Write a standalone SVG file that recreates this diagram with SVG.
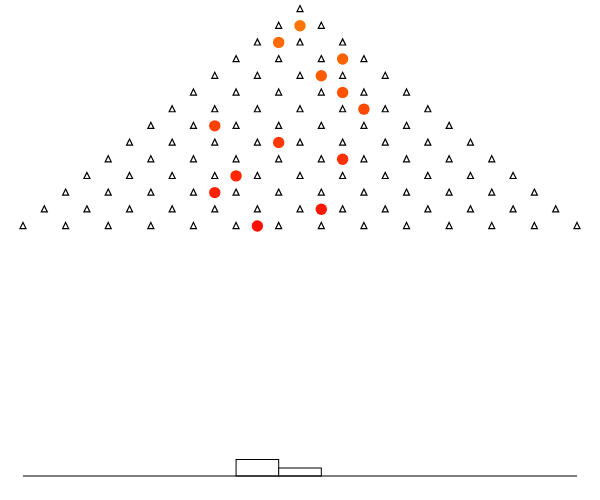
<svg xmlns="http://www.w3.org/2000/svg" xmlns:xlink="http://www.w3.org/1999/xlink" width="600" height="500" viewBox="0 0 600 500">
<style>
.peg{fill:none;stroke:#000;stroke-width:1.2}
.bar{fill:#fff;stroke:#000;stroke-width:1}
.ground{stroke:#000;stroke-width:1.2}
</style>
<defs>
<polygon id="p" class="peg" points="0,-3.5 3,2.6 -3,2.6"/>
</defs>
<rect width="600" height="500" fill="#fff"/>
<g id="pegs">
<g id="row0"><use xlink:href="#p" x="300" y="9"/></g>
<g id="row1"><use xlink:href="#p" x="278.69" y="25.69"/><use xlink:href="#p" x="321.31" y="25.69"/></g>
<g id="row2"><use xlink:href="#p" x="257.38" y="42.38"/><use xlink:href="#p" x="300" y="42.38"/><use xlink:href="#p" x="342.62" y="42.38"/></g>
<g id="row3"><use xlink:href="#p" x="236.08" y="59.07"/><use xlink:href="#p" x="278.69" y="59.07"/><use xlink:href="#p" x="321.31" y="59.07"/><use xlink:href="#p" x="363.92" y="59.07"/></g>
<g id="row4"><use xlink:href="#p" x="214.77" y="75.76"/><use xlink:href="#p" x="257.38" y="75.76"/><use xlink:href="#p" x="300" y="75.76"/><use xlink:href="#p" x="342.62" y="75.76"/><use xlink:href="#p" x="385.23" y="75.76"/></g>
<g id="row5"><use xlink:href="#p" x="193.46" y="92.45"/><use xlink:href="#p" x="236.08" y="92.45"/><use xlink:href="#p" x="278.69" y="92.45"/><use xlink:href="#p" x="321.31" y="92.45"/><use xlink:href="#p" x="363.92" y="92.45"/><use xlink:href="#p" x="406.54" y="92.45"/></g>
<g id="row6"><use xlink:href="#p" x="172.15" y="109.14"/><use xlink:href="#p" x="214.77" y="109.14"/><use xlink:href="#p" x="257.38" y="109.14"/><use xlink:href="#p" x="300" y="109.14"/><use xlink:href="#p" x="342.62" y="109.14"/><use xlink:href="#p" x="385.23" y="109.14"/><use xlink:href="#p" x="427.85" y="109.14"/></g>
<g id="row7"><use xlink:href="#p" x="150.85" y="125.83"/><use xlink:href="#p" x="193.46" y="125.83"/><use xlink:href="#p" x="236.08" y="125.83"/><use xlink:href="#p" x="278.69" y="125.83"/><use xlink:href="#p" x="321.31" y="125.83"/><use xlink:href="#p" x="363.92" y="125.83"/><use xlink:href="#p" x="406.54" y="125.83"/><use xlink:href="#p" x="449.15" y="125.83"/></g>
<g id="row8"><use xlink:href="#p" x="129.54" y="142.52"/><use xlink:href="#p" x="172.15" y="142.52"/><use xlink:href="#p" x="214.77" y="142.52"/><use xlink:href="#p" x="257.38" y="142.52"/><use xlink:href="#p" x="300" y="142.52"/><use xlink:href="#p" x="342.62" y="142.52"/><use xlink:href="#p" x="385.23" y="142.52"/><use xlink:href="#p" x="427.85" y="142.52"/><use xlink:href="#p" x="470.46" y="142.52"/></g>
<g id="row9"><use xlink:href="#p" x="108.23" y="159.21"/><use xlink:href="#p" x="150.85" y="159.21"/><use xlink:href="#p" x="193.46" y="159.21"/><use xlink:href="#p" x="236.08" y="159.21"/><use xlink:href="#p" x="278.69" y="159.21"/><use xlink:href="#p" x="321.31" y="159.21"/><use xlink:href="#p" x="363.92" y="159.21"/><use xlink:href="#p" x="406.54" y="159.21"/><use xlink:href="#p" x="449.15" y="159.21"/><use xlink:href="#p" x="491.77" y="159.21"/></g>
<g id="row10"><use xlink:href="#p" x="86.92" y="175.9"/><use xlink:href="#p" x="129.54" y="175.9"/><use xlink:href="#p" x="172.15" y="175.9"/><use xlink:href="#p" x="214.77" y="175.9"/><use xlink:href="#p" x="257.38" y="175.9"/><use xlink:href="#p" x="300" y="175.9"/><use xlink:href="#p" x="342.62" y="175.9"/><use xlink:href="#p" x="385.23" y="175.9"/><use xlink:href="#p" x="427.85" y="175.9"/><use xlink:href="#p" x="470.46" y="175.9"/><use xlink:href="#p" x="513.08" y="175.9"/></g>
<g id="row11"><use xlink:href="#p" x="65.62" y="192.59"/><use xlink:href="#p" x="108.23" y="192.59"/><use xlink:href="#p" x="150.85" y="192.59"/><use xlink:href="#p" x="193.46" y="192.59"/><use xlink:href="#p" x="236.08" y="192.59"/><use xlink:href="#p" x="278.69" y="192.59"/><use xlink:href="#p" x="321.31" y="192.59"/><use xlink:href="#p" x="363.92" y="192.59"/><use xlink:href="#p" x="406.54" y="192.59"/><use xlink:href="#p" x="449.15" y="192.59"/><use xlink:href="#p" x="491.77" y="192.59"/><use xlink:href="#p" x="534.38" y="192.59"/></g>
<g id="row12"><use xlink:href="#p" x="44.31" y="209.28"/><use xlink:href="#p" x="86.92" y="209.28"/><use xlink:href="#p" x="129.54" y="209.28"/><use xlink:href="#p" x="172.15" y="209.28"/><use xlink:href="#p" x="214.77" y="209.28"/><use xlink:href="#p" x="257.38" y="209.28"/><use xlink:href="#p" x="300" y="209.28"/><use xlink:href="#p" x="342.62" y="209.28"/><use xlink:href="#p" x="385.23" y="209.28"/><use xlink:href="#p" x="427.85" y="209.28"/><use xlink:href="#p" x="470.46" y="209.28"/><use xlink:href="#p" x="513.08" y="209.28"/><use xlink:href="#p" x="555.69" y="209.28"/></g>
<g id="row13"><use xlink:href="#p" x="23" y="225.97"/><use xlink:href="#p" x="65.62" y="225.97"/><use xlink:href="#p" x="108.23" y="225.97"/><use xlink:href="#p" x="150.85" y="225.97"/><use xlink:href="#p" x="193.46" y="225.97"/><use xlink:href="#p" x="236.08" y="225.97"/><use xlink:href="#p" x="278.69" y="225.97"/><use xlink:href="#p" x="321.31" y="225.97"/><use xlink:href="#p" x="363.92" y="225.97"/><use xlink:href="#p" x="406.54" y="225.97"/><use xlink:href="#p" x="449.15" y="225.97"/><use xlink:href="#p" x="491.77" y="225.97"/><use xlink:href="#p" x="534.38" y="225.97"/><use xlink:href="#p" x="577" y="225.97"/></g>
</g>
<g id="balls">
<circle cx="300" cy="25.69" r="5.7" fill="#ff7300"/>
<circle cx="278.69" cy="42.38" r="5.7" fill="#ff6b00"/>
<circle cx="342.62" cy="59.07" r="5.7" fill="#ff6200"/>
<circle cx="321.31" cy="75.76" r="5.7" fill="#ff5a00"/>
<circle cx="342.62" cy="92.45" r="5.7" fill="#ff5200"/>
<circle cx="363.92" cy="109.14" r="5.7" fill="#ff4900"/>
<circle cx="214.77" cy="125.83" r="5.7" fill="#ff4100"/>
<circle cx="278.69" cy="142.52" r="5.7" fill="#ff3900"/>
<circle cx="342.62" cy="159.21" r="5.7" fill="#ff3000"/>
<circle cx="236.08" cy="175.9" r="5.7" fill="#ff2800"/>
<circle cx="214.77" cy="192.59" r="5.7" fill="#ff2000"/>
<circle cx="321.31" cy="209.28" r="5.7" fill="#ff1700"/>
<circle cx="257.38" cy="225.97" r="5.7" fill="#ff0f00"/>
</g>
<g id="histogram">
<rect class="bar" x="236.08" y="459.5" width="42.61" height="16.5"/>
<rect class="bar" x="278.69" y="468" width="42.62" height="8"/>
<line class="ground" x1="23" y1="476" x2="577" y2="476"/>
</g>
</svg>
